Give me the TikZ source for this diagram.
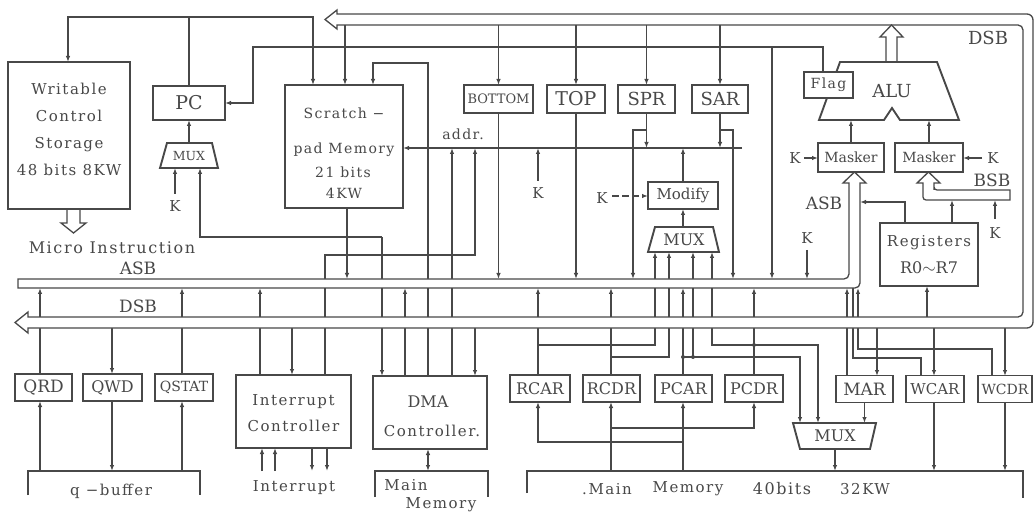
\documentclass[tikz,border=0pt]{standalone}
\usepackage{fontspec}
\setmainfont{DejaVu Serif}
\newfontfamily\spaced[LetterSpace=10]{DejaVu Serif}
\usepackage{xcolor}
\usepackage{tikz}
\usetikzlibrary{arrows.meta}
\definecolor{ink}{HTML}{484848}

\begin{document}
\begin{tikzpicture}[x=1pt,y=-1pt,>={Latex[length=6pt,width=4.5pt]},
  wire/.style={draw=ink,line width=1.3pt},
  bus/.style={draw=ink,line width=1.3pt,fill=white},
  reg/.style={draw=ink,line width=1.9pt,fill=white,inner sep=0pt,text=ink,font=\fontsize{16}{18}\selectfont},
  lbl/.style={text=ink,inner sep=0pt,font=\fontsize{15}{17}\selectfont},
  wlbl/.style={text=ink,inner sep=0pt,font=\spaced\fontsize{15}{17}\selectfont},
  jdot/.style={circle,fill=ink,inner sep=0pt,minimum size=4pt}]
\useasboundingbox (0,0) rectangle (1034,513);

% ---- wires in the upper half
\draw[wire,->] (189,86) -- (189,17) -- (68,17) -- (68,62);
\draw[wire,->] (189,17) -- (313,17) -- (313,85);
\draw[wire,->] (345,25) -- (345,85);
\foreach \x in {498.5,576,646.5,720}
  \draw[wire,->] (\x,25) -- (\x,85);
\draw[wire,->] (823,72) -- (823,47) -- (253,47) -- (253,103) -- (225,103);
\draw[wire,->] (772,47) -- (772,279);
\draw[wire,->] (428,376) -- (428,63) -- (373,63) -- (373,85);
\draw[wire,->] (742,148) -- (403,148);
\draw[wire,->] (646.5,113) -- (646.5,148);
\draw[wire,->] (646.5,130) -- (633,130) -- (633,279);
\draw[wire,->] (720,113) -- (720,148);
\draw[wire,->] (720,130) -- (733,130) -- (733,279);
\draw[wire,->] (452,376) -- (452,148);
\draw[wire,->] (325,375) -- (325,255) -- (475,255) -- (475,148);
\draw[wire,->] (538,181) -- (538,148);
\draw[wire,->] (683,182) -- (683,148);
\draw[wire,->,dash pattern=on 7pt off 3pt] (612,196) -- (648,196);
\draw[wire,->] (683,227) -- (683,209);
\draw[wire,->] (498.5,113) -- (498.5,279);
\draw[wire,->] (576,113) -- (576,279);
\draw[wire,->] (347,208) -- (347,279);
\draw[wire,->] (807,250) -- (807,279);
\draw[wire,->] (189,143) -- (189,120);
\draw[wire,->] (175,194) -- (175,168);
\draw[wire,->] (382,237) -- (200,237) -- (200,168);
\draw[wire,->] (382,237) -- (382,376);

% ---- wires in the lower half
\draw[wire,->] (40,374) -- (40,288);
\draw[wire,->] (40,471) -- (40,401);
\draw[wire,->] (112,328) -- (112,374);
\draw[wire,->] (112,401) -- (112,471);
\draw[wire,->] (182,374) -- (182,288);
\draw[wire,->] (182,471) -- (182,401);
\draw[wire,->] (260,375) -- (260,288);
\draw[wire,->] (292,328) -- (292,375);
\foreach \x in {262,275}
  \draw[wire,->] (\x,471) -- (\x,448);
\foreach \x in {312,327}
  \draw[wire,->] (\x,448) -- (\x,471);
\draw[wire,->] (405,376) -- (405,288);
\draw[wire,->] (475,328) -- (475,376);
\draw[wire,<->] (428,449) -- (428,471);

\draw[wire,->] (538,375) -- (538,288);
\draw[wire,->] (538,345) -- (655,345) -- (655,252);
\draw[wire,->] (683,471) -- (683,402);
\draw[wire,->] (683,442) -- (538,442) -- (538,402);
\draw[wire,->] (611,375) -- (611,288);
\draw[wire,->] (611,357) -- (669,357) -- (669,252);
\draw[wire,->] (611,471) -- (611,402);
\draw[wire,->] (611,428) -- (754,428) -- (754,402);
\draw[wire,->] (683,375) -- (683,288);
\draw[wire,->] (683,357) -- (800,357) -- (800,423);
\draw[wire,->] (693,357) -- (693,252);
\draw[wire,->] (754,375) -- (754,288);
\draw[wire,<->] (712,252) -- (712,345) -- (818,345) -- (818,423);
\node[jdot] (j1) at (683,357) {};
\node[jdot] (j2) at (693,357) {};
\node[jdot] (j3) at (754,345) {};

\draw[wire,->] (847,376) -- (847,288);
\draw[wire,->] (877,328) -- (877,376);
\draw[wire,->] (864.5,402) -- (864.5,423);
\draw[wire,->] (835,449) -- (835,471);
\draw[wire] (853,288) -- (853,358) -- (921,358) -- (921,376);
\draw[wire,<-] (858,288) -- (858,349) -- (992,349) -- (992,376);
\draw[wire,->] (934,328) -- (934,376);
\draw[wire,->] (934,402) -- (934,471);
\draw[wire,->] (1005,328) -- (1005,376);
\draw[wire,->] (1005,402) -- (1005,471);

\draw[wire,->] (927,317) -- (927,286);
\draw[wire,->] (905,223) -- (905,202) -- (860,202);
\draw[wire,->] (952,223) -- (952,200);
\draw[wire,->] (995,219) -- (995,200);
\draw[wire,->] (851,143) -- (851,120);
\draw[wire,->] (929,143) -- (929,120);
\draw[wire,->] (804,158) -- (818,158);
\draw[wire,->] (982,158) -- (963,158);

% memory brackets
\draw[wire,line width=1.6pt] (28,495) -- (28,471) -- (200,471) -- (200,495);
\draw[wire,line width=1.6pt] (375,497) -- (375,471) -- (488,471) -- (488,497);
\draw[wire,line width=1.6pt] (527,493) -- (527,471) -- (1023,471) -- (1023,498);

% ---- buses
\draw[bus] (325,19.5) -- (337,10) -- (337,14) -- (700,14) [rounded corners=6pt] -- (1033,14)
  -- (1033,328) -- (700,328) [sharp corners] -- (28,328) -- (28,333) -- (15,322.5)
  -- (28,312) -- (28,317) -- (700,317) [rounded corners=5pt] -- (1023,317)
  -- (1023,25) -- (700,25) [sharp corners] -- (337,25) -- (337,29) -- cycle;
\draw[bus] (18,279) -- (700,279) [rounded corners=5pt] -- (849,279) -- (849,230)
  [sharp corners] -- (849,183) -- (843,183) -- (854.5,172) -- (866,183) -- (860,183)
  -- (860,230) [rounded corners=5pt] -- (860,288) -- (700,288) [sharp corners]
  -- (18,288) -- cycle;
\draw[bus] (1010,190) -- (960,190) [rounded corners=3pt] -- (934,190) -- (934,187)
  [sharp corners] -- (934,183) -- (940,183) -- (928.5,172) -- (917,183) -- (923,183)
  -- (923,187) [rounded corners=3pt] -- (923,200) -- (960,200) [sharp corners]
  -- (1010,200) -- cycle;
\draw[bus] (886,62) -- (886,37) -- (880,37) -- (891.5,25) -- (903,37) -- (897,37) -- (897,62);
\draw[bus] (67,209) -- (67,223) -- (61,223) -- (73.5,233) -- (86,223) -- (80,223) -- (80,209);

% ---- blocks
\node[reg,minimum width=122,minimum height=147] (wcs) at (69,135.5) {};
\node[wlbl,align=center,font=\spaced\fontsize{15}{27}\selectfont] (wcstxt) at (69,129)
  {Writable\\Control\\Storage\\48 bits 8KW};
\node[reg,minimum width=72,minimum height=34,font=\fontsize{19}{21}\selectfont] (pc) at (189,103) {PC};
\draw[wire,line width=1.9pt,fill=white] (167,143) -- (212,143) -- (218,168) -- (160,168) -- cycle;
\node[lbl,font=\fontsize{12.5}{14}\selectfont] (pcmux) at (189,156) {MUX};
\node[reg,minimum width=118,minimum height=123] (spm) at (344,146.5) {};
\node[wlbl,font=\spaced\fontsize{14}{16}\selectfont] (spm1) at (344,113) {Scratch −};
\node[wlbl,font=\spaced\fontsize{14}{16}\selectfont] (spm2) at (344,150) {pad Memory};
\node[wlbl,font=\spaced\fontsize{14}{16}\selectfont] (spm3) at (343,172) {21 bits};
\node[wlbl,font=\spaced\fontsize{14}{16}\selectfont] (spm4) at (344,193) {4KW};
\node[reg,minimum width=69,minimum height=28,font=\fontsize{13}{15}\selectfont] (bottom) at (498.5,99) {BOTTOM};
\node[reg,minimum width=58,minimum height=28,font=\fontsize{19}{21}\selectfont] (top) at (576,99) {TOP};
\node[reg,minimum width=57,minimum height=28,font=\fontsize{18}{20}\selectfont] (spr) at (646.5,99) {SPR};
\node[reg,minimum width=56,minimum height=28,font=\fontsize{18}{20}\selectfont] (sar) at (720,99) {SAR};
\node[reg,minimum width=70,minimum height=27,font=\fontsize{15}{17}\selectfont] (modify) at (683,195.5) {Modify};
\draw[wire,line width=1.9pt,fill=white] (655,227) -- (713,227) -- (719,252) -- (648,252) -- cycle;
\node[lbl,font=\fontsize{16}{18}\selectfont] (mux2) at (684,240) {MUX};

\draw[wire,line width=1.9pt,fill=white] (840,62) -- (937,62) -- (959,120) -- (900,120)
  -- (892,108) -- (884,120) -- (819,120) -- cycle;
\node[lbl,font=\fontsize{18}{20}\selectfont] (alu) at (892,91) {ALU};
\node[reg,minimum width=49,minimum height=26,font=\spaced\fontsize{14}{16}\selectfont] (flag) at (828.5,85) {Flag};
\node[reg,minimum width=66,minimum height=29,font=\fontsize{14}{16}\selectfont] (mask1) at (851,157.5) {Masker};
\node[reg,minimum width=68,minimum height=29,font=\fontsize{14}{16}\selectfont] (mask2) at (929,157.5) {Masker};
\node[reg,minimum width=98,minimum height=63] (regs) at (929,254.5) {};
\node[wlbl] (regs1) at (929,243) {Registers};
\node[lbl,font=\fontsize{16}{18}\selectfont] (regs2) at (929,268) {R0$\sim$R7};

\node[reg,minimum width=57,minimum height=27,font=\fontsize{17}{19}\selectfont] (qrd) at (43.5,387.5) {QRD};
\node[reg,minimum width=59,minimum height=27,font=\fontsize{16}{18}\selectfont] (qwd) at (112.5,387.5) {QWD};
\node[reg,minimum width=58,minimum height=27,font=\fontsize{14}{16}\selectfont] (qstat) at (184,387.5) {QSTAT};
\node[reg,minimum width=115,minimum height=73] (intc) at (293.5,411.5) {};
\node[wlbl] (intc1) at (293.5,402) {Interrupt};
\node[wlbl] (intc2) at (293.5,426) {Controller};
\node[reg,minimum width=114,minimum height=73] (dma) at (430,412.5) {};
\node[lbl,font=\fontsize{16}{18}\selectfont] (dma1) at (428,402) {DMA};
\node[wlbl] (dma2) at (432,431) {Controller.};
\node[reg,minimum width=60,minimum height=27] (rcar) at (540,388.5) {RCAR};
\node[reg,minimum width=57,minimum height=27] (rcdr) at (611.5,388.5) {RCDR};
\node[reg,minimum width=57,minimum height=27] (pcar) at (683.5,388.5) {PCAR};
\node[reg,minimum width=58,minimum height=27] (pcdr) at (754,388.5) {PCDR};
\node[reg,minimum width=57,minimum height=27,font=\fontsize{17}{19}\selectfont] (mar) at (864.5,389) {MAR};
\node[reg,minimum width=58,minimum height=27,font=\fontsize{15}{17}\selectfont] (wcar) at (935,389) {WCAR};
\node[reg,minimum width=54,minimum height=27,font=\fontsize{14}{16}\selectfont] (wcdr) at (1005,389) {WCDR};
\draw[wire,line width=1.9pt,fill=white] (793,423) -- (876,423) -- (870,449) -- (800,449) -- cycle;
\node[lbl,font=\fontsize{16}{18}\selectfont] (mux3) at (835,436) {MUX};

% ---- labels
\node[wlbl,font=\spaced\fontsize{16}{18}\selectfont] (micro) at (112,248) {Micro Instruction};
\node[lbl,font=\fontsize{17}{19}\selectfont] (asbl) at (138,268) {ASB};
\node[lbl,font=\fontsize{17}{19}\selectfont] (dsbl) at (138,306) {DSB};
\node[lbl,font=\fontsize{18}{20}\selectfont] (dsbr) at (988,38) {DSB};
\node[lbl,font=\fontsize{17}{19}\selectfont] (asbr) at (824,203) {ASB};
\node[lbl,font=\fontsize{17}{19}\selectfont] (bsb) at (992,180) {BSB};
\node[wlbl,font=\spaced\fontsize{14}{16}\selectfont] (addr) at (463,134) {addr.};
\node[lbl] (k1) at (175,206) {K};
\node[lbl] (k2) at (538,193) {K};
\node[lbl] (k3) at (602,198) {K};
\node[lbl] (k4) at (795,158) {K};
\node[lbl] (k5) at (993,158) {K};
\node[lbl] (k6) at (807,238) {K};
\node[lbl] (k7) at (995,233) {K};
\node[wlbl] (qbuf) at (111,491) {q −buffer};
\node[wlbl] (intr) at (294,488) {Interrupt};
\node[wlbl] (mm1a) at (406,485) {Main};
\node[wlbl] (mm1b) at (441,505) {Memory};
\node[wlbl] (mm2a) at (607,489) {.Main};
\node[wlbl] (mm2b) at (688,489) {Memory};
\node[wlbl,font=\spaced\fontsize{16}{18}\selectfont] (mm2c) at (782,489) {40bits};
\node[wlbl] (mm2d) at (865,489) {32KW};
\end{tikzpicture}
\end{document}
